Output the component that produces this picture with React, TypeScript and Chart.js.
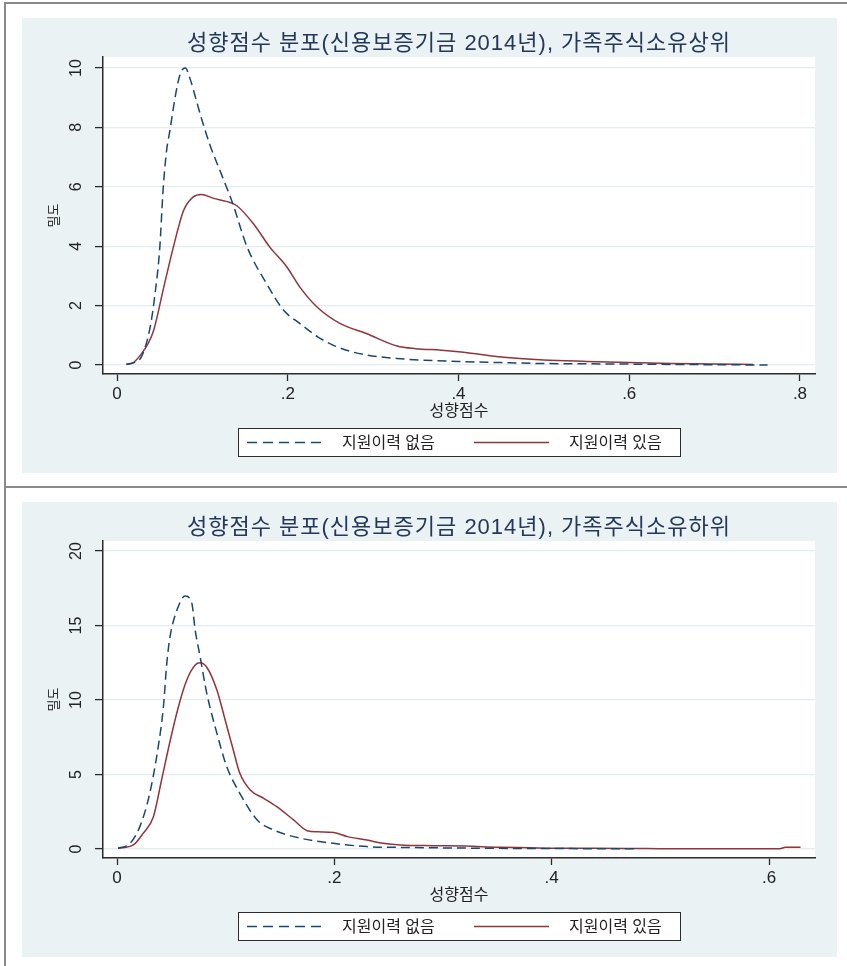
import React, { useEffect, useRef } from 'react';
import { Chart, registerables } from 'chart.js';

Chart.register(...registerables);

// ---------- colours ----------
const NAVY = '#1a476f';
const MAROON = '#90353b';
const BG = '#eaf2f3';
const GRID = '#e3ecee';
const AXIS = '#2b2b2b';
const TEXT = '#222222';
const TITLE_COLOR = '#25375a';

// ---------- text ----------
const seriesLabels = ['지원이력 없음', '지원이력 있음'];
const xAxisTitle = '성향점수';
const yAxisTitle = '밀도';
const titleTop = '성향점수 분포(신용보증기금 2014년), 가족주식소유상위';
const titleBottom = '성향점수 분포(신용보증기금 2014년), 가족주식소유하위';

// ---------- ticks ----------
const topXTicks = [0, 0.2, 0.4, 0.6, 0.8];
const topXTickLabels = ['0', '.2', '.4', '.6', '.8'];
const topYTicks = [0, 2, 4, 6, 8, 10];
const topYTickLabels = ['0', '2', '4', '6', '8', '10'];
const botXTicks = [0, 0.2, 0.4, 0.6];
const botXTickLabels = ['0', '.2', '.4', '.6'];
const botYTicks = [0, 5, 10, 15, 20];
const botYTickLabels = ['0', '5', '10', '15', '20'];

// ---------- data: upper panel (가족주식소유상위) ----------
const topNoX = [0.011, 0.02, 0.029, 0.039, 0.045, 0.05, 0.054, 0.058, 0.062, 0.068, 0.074, 0.08, 0.086, 0.093, 0.1, 0.109, 0.124, 0.136, 0.152, 0.175, 0.195, 0.214, 0.235, 0.253, 0.272, 0.292, 0.328, 0.36, 0.4, 0.45, 0.5, 0.55, 0.6, 0.65, 0.7, 0.762];
const topNoY = [0.02, 0.08, 0.3, 1.3, 2.5, 3.9, 5.9, 7.2, 7.9, 9.0, 9.8, 10.0, 9.6, 8.9, 8.2, 7.4, 6.3, 5.4, 4.0, 2.75, 1.85, 1.4, 0.95, 0.67, 0.47, 0.34, 0.22, 0.16, 0.12, 0.08, 0.05, 0.04, 0.03, 0.02, 0.01, 0.0];
const topYesX = [0.011, 0.02, 0.029, 0.036, 0.043, 0.054, 0.066, 0.078, 0.089, 0.099, 0.113, 0.128, 0.14, 0.16, 0.179, 0.199, 0.214, 0.234, 0.261, 0.292, 0.328, 0.35, 0.38, 0.4, 0.42, 0.45, 0.5, 0.55, 0.6, 0.65, 0.7, 0.745];
const topYesY = [0.02, 0.1, 0.39, 0.7, 1.17, 2.52, 3.97, 5.2, 5.65, 5.74, 5.61, 5.51, 5.37, 4.75, 3.97, 3.3, 2.63, 1.96, 1.4, 1.06, 0.64, 0.55, 0.5, 0.45, 0.38, 0.27, 0.17, 0.12, 0.08, 0.05, 0.03, 0.02];

// ---------- data: lower panel (가족주식소유하위) ----------
const botNoX = [0.001, 0.012, 0.021, 0.03, 0.038, 0.0427, 0.0458, 0.0488, 0.055, 0.0627, 0.0688, 0.0719, 0.0765, 0.0826, 0.0919, 0.101, 0.113, 0.129, 0.144, 0.169, 0.199, 0.23, 0.27, 0.32, 0.36, 0.4, 0.44, 0.478];
const botNoY = [0.05, 0.38, 1.5, 3.7, 6.9, 9.55, 12.46, 14.25, 16.0, 16.98, 16.5, 14.7, 12.9, 10.45, 7.77, 5.52, 3.74, 1.95, 1.28, 0.72, 0.38, 0.16, 0.1, 0.06, 0.04, 0.03, 0.02, 0.01];
const botYesX = [0.001, 0.015, 0.024, 0.0335, 0.041, 0.049, 0.0565, 0.0642, 0.0719, 0.0765, 0.0826, 0.0919, 0.0995, 0.107, 0.113, 0.1226, 0.135, 0.147, 0.1625, 0.175, 0.185, 0.1995, 0.212, 0.23, 0.245, 0.261, 0.29, 0.32, 0.35, 0.38, 0.4, 0.44, 0.48, 0.5, 0.55, 0.61, 0.615, 0.629];
const botYesY = [0.05, 0.27, 1.05, 2.17, 4.63, 7.3, 9.55, 11.34, 12.35, 12.5, 12.2, 10.67, 8.66, 6.64, 5.08, 3.96, 3.4, 2.84, 1.95, 1.23, 1.15, 1.1, 0.83, 0.6, 0.38, 0.27, 0.22, 0.2, 0.12, 0.08, 0.05, 0.05, 0.03, 0.02, 0.02, 0.02, 0.12, 0.12];

const FONT = '"Liberation Sans", "Noto Sans CJK KR", sans-serif';

type PanelProps = {
  title: string;
  noX: number[]; noY: number[];
  yesX: number[]; yesY: number[];
  xTicks: number[]; xTickLabels: string[];
  yTicks: number[]; yTickLabels: string[];
  xMin: number; xMax: number; yMin: number; yMax: number;
  top: number;
};

function labelFor(v: number, ticks: number[], labels: string[]) {
  const i = ticks.findIndex((t) => Math.abs(t - v) < 1e-9);
  return i >= 0 ? labels[i] : '';
}

function Panel(p: PanelProps) {
  const ref = useRef<HTMLCanvasElement | null>(null);
  useEffect(() => {
    if (!ref.current) return;
    const decor = {
      id: 'stataDecor',
      beforeDraw(chart: any) {
        const { ctx, chartArea: a } = chart;
        ctx.save();
        ctx.fillStyle = '#ffffff';
        ctx.fillRect(a.left, a.top, a.right - a.left, a.bottom - a.top);
        ctx.restore();
      },
      afterDraw(chart: any) {
        const { ctx, chartArea: a } = chart;
        const cx = (a.left + a.right) / 2;
        ctx.save();
        // title
        ctx.font = `22px ${FONT}`;
        ctx.fillStyle = TITLE_COLOR;
        ctx.textAlign = 'center';
        ctx.textBaseline = 'middle';
        try { (ctx as any).letterSpacing = '1px'; } catch (e) { /* ignore */ }
        ctx.fillText(p.title, cx, a.top - 13);
        try { (ctx as any).letterSpacing = '0px'; } catch (e) { /* ignore */ }
        // legend
        const w = 443, h = 29;
        const left = Math.round(cx - w / 2), top = Math.round(a.bottom + 54);
        ctx.fillStyle = '#ffffff';
        ctx.fillRect(left, top, w, h);
        ctx.strokeStyle = AXIS;
        ctx.lineWidth = 1;
        ctx.strokeRect(left + 0.5, top + 0.5, w - 1, h - 1);
        const itemX = [9, 236];
        chart.data.datasets.forEach((ds: any, i: number) => {
          const x0 = left + itemX[i];
          const y = top + h / 2;
          ctx.beginPath();
          ctx.setLineDash(i === 0 ? [10, 6] : []);
          ctx.strokeStyle = ds.borderColor;
          ctx.lineWidth = ds.borderWidth;
          ctx.moveTo(x0, y);
          ctx.lineTo(x0 + 75, y);
          ctx.stroke();
          ctx.setLineDash([]);
          ctx.fillStyle = TEXT;
          ctx.font = `16px ${FONT}`;
          ctx.textAlign = 'left';
          ctx.textBaseline = 'middle';
          ctx.fillText(ds.label, x0 + 95, y + 1);
        });
        ctx.restore();
      },
    };

    const chart = new Chart(ref.current, {
      type: 'line',
      data: {
        datasets: [
          {
            label: seriesLabels[0],
            data: p.noX.map((x, i) => ({ x, y: p.noY[i] })),
            borderColor: NAVY,
            borderWidth: 1.5,
            borderDash: [9, 5],
            pointRadius: 0,
            fill: false,
            cubicInterpolationMode: 'monotone',
          },
          {
            label: seriesLabels[1],
            data: p.yesX.map((x, i) => ({ x, y: p.yesY[i] })),
            borderColor: MAROON,
            borderWidth: 1.5,
            pointRadius: 0,
            fill: false,
            cubicInterpolationMode: 'monotone',
          },
        ],
      },
      options: {
        animation: false,
        responsive: false,
        devicePixelRatio: 1,
        layout: { padding: { left: 0, right: 22, top: 39, bottom: 49 } },
        plugins: { legend: { display: false }, title: { display: false }, tooltip: { enabled: false } },
        scales: {
          x: {
            type: 'linear',
            min: p.xMin,
            max: p.xMax,
            afterBuildTicks: (s: any) => { s.ticks = p.xTicks.map((v) => ({ value: v })); },
            afterFit: (s: any) => { s.height = 50; },
            ticks: {
              autoSkip: false,
              maxRotation: 0,
              padding: 3,
              color: TEXT,
              font: { family: FONT, size: 17 },
              callback: (v: any) => labelFor(Number(v), p.xTicks, p.xTickLabels),
            },
            grid: { drawOnChartArea: false, drawTicks: true, tickLength: 7, tickColor: AXIS, tickWidth: 1.3 },
            border: { display: true, color: AXIS, width: 1.5 },
            title: { display: true, text: xAxisTitle, color: TEXT, font: { family: FONT, size: 16 }, padding: { top: 0, bottom: 3 } },
          },
          y: {
            type: 'linear',
            min: p.yMin,
            max: p.yMax,
            afterBuildTicks: (s: any) => { s.ticks = p.yTicks.map((v) => ({ value: v })); },
            afterFit: (s: any) => { s.width = 81; },
            ticks: {
              autoSkip: false,
              minRotation: 90,
              maxRotation: 90,
              crossAlign: 'center',
              padding: 10,
              color: TEXT,
              font: { family: FONT, size: 16 },
              callback: (v: any) => labelFor(Number(v), p.yTicks, p.yTickLabels),
            },
            grid: { drawOnChartArea: true, color: GRID, lineWidth: 1.2, drawTicks: true, tickLength: 8, tickColor: AXIS, tickWidth: 1.3 },
            border: { display: true, color: AXIS, width: 1.5 },
            title: { display: true, text: yAxisTitle, color: TEXT, font: { family: FONT, size: 13 }, padding: { top: 25, bottom: 0 } },
          },
        },
      } as any,
      plugins: [decor],
    });
    return () => chart.destroy();
  }, []);

  return (
    <div style={{ position: 'absolute', left: 22, top: p.top, width: 815, height: 455, background: BG }}>
      <canvas ref={ref} width={815} height={455} style={{ display: 'block', width: 815, height: 455 }} />
    </div>
  );
}

export default function App() {
  return (
    <div style={{ position: 'absolute', left: 0, top: 0, width: 847, height: 966, background: '#ffffff', overflow: 'hidden' }}>
      {/* frame lines */}
      <div style={{ position: 'absolute', left: 5, top: 2, width: 842, height: 2, background: '#8a8a8a' }} />
      <div style={{ position: 'absolute', left: 4, top: 2, width: 2, height: 964, background: '#8a8a8a' }} />
      <div style={{ position: 'absolute', left: 5, top: 486, width: 842, height: 2, background: '#8a8a8a' }} />
      <Panel
        title={titleTop}
        noX={topNoX} noY={topNoY} yesX={topYesX} yesY={topYesY}
        xTicks={topXTicks} xTickLabels={topXTickLabels}
        yTicks={topYTicks} yTickLabels={topYTickLabels}
        xMin={-0.0164} xMax={0.8176} yMin={-0.303} yMax={10.37}
        top={18}
      />
      <Panel
        title={titleBottom}
        noX={botNoX} noY={botNoY} yesX={botYesX} yesY={botYesY}
        xTicks={botXTicks} xTickLabels={botXTickLabels}
        yTicks={botYTicks} yTickLabels={botYTickLabels}
        xMin={-0.0129} xMax={0.6423} yMin={-0.604} yMax={20.67}
        top={502}
      />
    </div>
  );
}
